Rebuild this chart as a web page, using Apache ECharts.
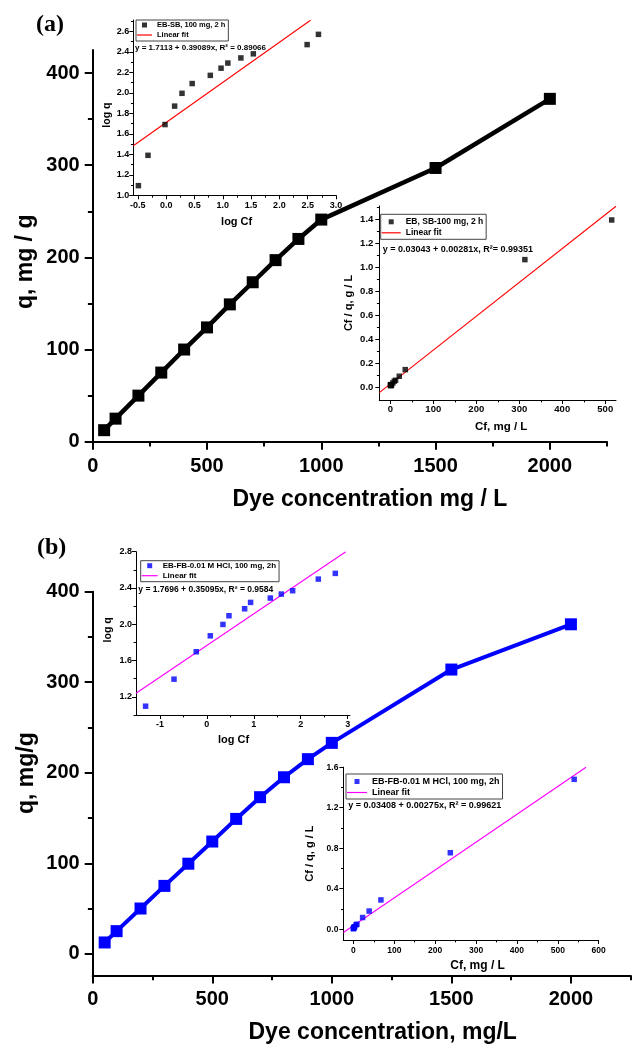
<!DOCTYPE html>
<html>
<head>
<meta charset="utf-8">
<title>Adsorption isotherms</title>
<script src="https://cdn.jsdelivr.net/npm/echarts@6.0.0/dist/echarts.min.js"></script>
<style>
  html, body { margin: 0; padding: 0; background: #fff; }
  #chart { width: 632px; height: 1044px; }
</style>
</head>
<body>
<div id="chart"></div>
<script>
var FONT = '"Liberation Sans", Arial, sans-serif';

// initial dye concentration, mg/L (both panels)
var dyeConc = [50, 100, 200, 300, 400, 500, 600, 700, 800, 900, 1000, 1500, 2000];

// (a) EB on SB
var qSB = [12.5, 25, 50, 75, 100, 124, 149, 173, 197, 220, 241, 297, 372];
var logCfSB = [-0.49, -0.32, -0.02, 0.15, 0.28, 0.46, 0.78, 0.97, 1.09, 1.32, 1.54, 2.49, 2.69];
var logqSB = [1.094, 1.39, 1.69, 1.87, 1.995, 2.09, 2.17, 2.24, 2.29, 2.34, 2.38, 2.47, 2.57];
var cfSB = [0.32, 0.48, 0.95, 1.4, 1.9, 2.9, 6.0, 9.3, 12.3, 20.9, 34.7, 313, 515];
var cfqSB = [0.026, 0.019, 0.019, 0.019, 0.019, 0.023, 0.04, 0.054, 0.062, 0.095, 0.15, 1.063, 1.392];
var fitLogSB = [[-0.58, 1.484], [2.55, 2.708]];
var fitLinSB = [[-25.6, -0.041], [525, 1.506]];

// (b) EB on FB-0.01 M HCl
var qFB = [12.5, 25, 50, 75, 99.5, 124, 149, 173, 195, 215, 233, 314, 364];
var logCfFB = [-1.305, -0.70, -0.226, 0.073, 0.343, 0.471, 0.805, 0.932, 1.352, 1.586, 1.828, 2.375, 2.737];
var logqFB = [1.097, 1.395, 1.697, 1.873, 1.998, 2.094, 2.171, 2.241, 2.289, 2.333, 2.37, 2.498, 2.561];
var cfFB = [0.05, 0.2, 0.59, 1.18, 2.2, 2.96, 6.4, 8.6, 22.5, 38.5, 67.3, 237, 540];
var cfqFB = [0.004, 0.008, 0.012, 0.016, 0.022, 0.024, 0.043, 0.049, 0.115, 0.179, 0.289, 0.755, 1.48];
var fitLogFB = [[-1.51, 1.240], [2.96, 2.8]];
var fitLinFB = [[-24.5, -0.033], [569, 1.599]];

// tick labels
var mainXTicks = [0, 500, 1000, 1500, 2000];
var mainXMinor = [250, 750, 1250, 1750, 2250];
var mainYTicks = [0, 100, 200, 300, 400];
var mainYMinor = [50, 150, 250, 350];
var logXTicksA = [-0.5, 0, 0.5, 1, 1.5, 2, 2.5, 3];
var logXMinorA = [-0.25, 0.25, 0.75, 1.25, 1.75, 2.25, 2.75];
var logYTicksA = [1.0, 1.2, 1.4, 1.6, 1.8, 2.0, 2.2, 2.4, 2.6];
var logYMinorA = [1.1, 1.3, 1.5, 1.7, 1.9, 2.1, 2.3, 2.5, 2.7];
var linXTicksA = [0, 100, 200, 300, 400, 500];
var linXMinorA = [50, 150, 250, 350, 450];
var linYTicksA = [0, 0.2, 0.4, 0.6, 0.8, 1.0, 1.2, 1.4];
var linYMinorA = [0.1, 0.3, 0.5, 0.7, 0.9, 1.1, 1.3, 1.5];
var logXTicksB = [-1, 0, 1, 2, 3];
var logXMinorB = [-0.5, 0.5, 1.5, 2.5];
var logYTicksB = [1.2, 1.6, 2.0, 2.4, 2.8];
var logYMinorB = [1.0, 1.4, 1.8, 2.2, 2.6];
var linXTicksB = [0, 100, 200, 300, 400, 500, 600];
var linXMinorB = [50, 150, 250, 350, 450, 550];
var linYTicksB = [0, 0.4, 0.8, 1.2, 1.6];
var linYMinorB = [0.2, 0.6, 1.0, 1.4];

function zip(xs, ys) {
    var out = [];
    for (var i = 0; i < xs.length; i++) out.push([xs[i], ys[i]]);
    return out;
}
function asInt(v) { return String(Math.round(v)); }
function oneDec(v) { return v.toFixed(1); }

var chart = echarts.init(document.getElementById('chart'));

var grids = [
    {left: 92.7, top: 50, width: 514.3, height: 391.7},    // (a) main
    {left: 133.3, top: 20, width: 202.7, height: 175.3},   // (a) log inset
    {left: 379.3, top: 206, width: 236.7, height: 194},    // (a) Cf/q inset
    {left: 92.7, top: 591.7, width: 538, height: 383.8},   // (b) main
    {left: 136, top: 551.7, width: 214, height: 163.3},    // (b) log inset
    {left: 343.4, top: 767.2, width: 255.3, height: 172.8} // (b) Cf/q inset
];
grids.forEach(function (g) { g.containLabel = false; g.outerBoundsMode = 'none'; });

var xAxes = [], yAxes = [];
// each grid gets a labelled axis plus a bare one carrying the minor ticks
function addAxes(list, grid, pos, min, max, major, minor, o) {
    var black = {color: '#000', width: o.lw};
    list.push({
        type: 'value', gridIndex: grid, position: pos, min: min, max: max,
        name: o.name, nameLocation: 'middle', nameGap: o.gap, nameMoveOverlap: false,
        nameTextStyle: {fontSize: o.nameSize, fontWeight: 'bold', color: '#000',
            fontFamily: FONT, padding: o.pad || 0},
        axisLine: {show: true, onZero: false, lineStyle: black},
        axisTick: {show: true, inside: false, length: o.tick, customValues: major, lineStyle: black},
        axisLabel: {show: true, customValues: major, margin: o.margin, fontSize: o.size,
            fontWeight: 'bold', color: '#000', fontFamily: FONT, formatter: o.fmt},
        splitLine: {show: false}
    });
    list.push({
        type: 'value', gridIndex: grid, position: pos, min: min, max: max,
        axisLine: {show: false, onZero: false},
        axisTick: {show: true, inside: false, length: o.tick * 0.6, customValues: minor, lineStyle: black},
        axisLabel: {show: false},
        splitLine: {show: false}
    });
}

// (a)
addAxes(xAxes, 0, 'bottom', 0, 2250, mainXTicks, mainXMinor,
    {lw: 2, tick: 8, size: 20, margin: 15, fmt: asInt, name: 'Dye concentration mg / L',
     nameSize: 23, gap: 46, pad: [0, 0, 0, 40]});
addAxes(yAxes, 0, 'left', 0, 425, mainYTicks, mainYMinor,
    {lw: 2, tick: 8, size: 20, margin: 13, fmt: asInt, name: 'q, mg / g',
     nameSize: 23, gap: 56, pad: [0, 32, 0, 0]});
addAxes(xAxes, 1, 'bottom', -0.58, 3.0, logXTicksA, logXMinorA,
    {lw: 1, tick: 4, size: 9, margin: 6, fmt: oneDec, name: 'log Cf',
     nameSize: 11, gap: 21, pad: [0, 0, 0, 4]});
addAxes(yAxes, 1, 'left', 1.0, 2.71, logYTicksA, logYMinorA,
    {lw: 1, tick: 4, size: 9, margin: 4, fmt: oneDec, name: 'log q',
     nameSize: 10.5, gap: 21, pad: [0, 15, 0, 0]});
addAxes(xAxes, 2, 'bottom', -25.6, 525, linXTicksA, linXMinorA,
    {lw: 1, tick: 4, size: 9.5, margin: 4, fmt: asInt, name: 'Cf, mg / L',
     nameSize: 11.5, gap: 21, pad: [0, 0, 0, 7]});
addAxes(yAxes, 2, 'left', -0.102, 1.508, linYTicksA, linYMinorA,
    {lw: 1, tick: 4, size: 9.5, margin: 6, fmt: oneDec, name: 'Cf / q, g / L',
     nameSize: 11, gap: 25});
// (b)
addAxes(xAxes, 3, 'bottom', 0, 2250, mainXTicks, mainXMinor,
    {lw: 2, tick: 8, size: 20, margin: 14, fmt: asInt, name: 'Dye concentration, mg/L',
     nameSize: 23, gap: 46, pad: [0, 0, 0, 42]});
addAxes(yAxes, 3, 'left', -24, 400, mainYTicks, mainYMinor,
    {lw: 2, tick: 8, size: 20, margin: 13, fmt: asInt, name: 'q, mg/g',
     nameSize: 23, gap: 55, pad: [0, 0, 0, 21]});
addAxes(xAxes, 4, 'bottom', -1.51, 3.05, logXTicksB, logXMinorB,
    {lw: 1, tick: 4, size: 9, margin: 5, fmt: asInt, name: 'log Cf',
     nameSize: 11, gap: 19, pad: [0, 19, 0, 0]});
addAxes(yAxes, 4, 'left', 1.0, 2.8, logYTicksB, logYMinorB,
    {lw: 1, tick: 4, size: 9, margin: 4, fmt: oneDec, name: 'log q',
     nameSize: 10.5, gap: 22, pad: [0, 0, 0, 7]});
addAxes(xAxes, 5, 'bottom', -24.5, 600, linXTicksB, linXMinorB,
    {lw: 1, tick: 4, size: 8.5, margin: 6, fmt: asInt, name: 'Cf, mg / L',
     nameSize: 12, gap: 20, pad: [0, 0, 0, 13]});
addAxes(yAxes, 5, 'left', -0.107, 1.6, linYTicksB, linYMinorB,
    {lw: 1, tick: 4, size: 8.5, margin: 5, fmt: oneDec, name: 'Cf / q, g / L',
     nameSize: 11, gap: 28});

function mainLine(g, data, color, width) {
    return {type: 'line', xAxisIndex: 2 * g, yAxisIndex: 2 * g, data: data,
        symbol: 'rect', symbolSize: 12, showSymbol: true,
        lineStyle: {color: color, width: width}, itemStyle: {color: color}, z: 2};
}
function dots(g, name, data, color, size) {
    return {type: 'scatter', name: name, xAxisIndex: 2 * g, yAxisIndex: 2 * g, data: data,
        symbol: 'rect', symbolSize: size, itemStyle: {color: color}, z: 4};
}
function fit(g, name, data, color) {
    return {type: 'line', name: name, xAxisIndex: 2 * g, yAxisIndex: 2 * g, data: data,
        symbol: 'none', lineStyle: {color: color, width: 1.1}, itemStyle: {color: color}, z: 3};
}

var nameLogA = 'EB-SB, 100 mg, 2 h';
var nameLinA = 'EB, SB-100 mg, 2 h';
var nameB = 'EB-FB-0.01 M HCl, 100 mg, 2h';

var series = [
    mainLine(0, zip(dyeConc, qSB), '#000', 4.5),
    fit(1, 'Linear fit|1', fitLogSB, '#ff0000'),
    dots(1, nameLogA, zip(logCfSB, logqSB), '#000', 5.5),
    fit(2, 'Linear fit|2', fitLinSB, '#ff0000'),
    dots(2, nameLinA, zip(cfSB, cfqSB), '#000', 5.5),
    mainLine(3, zip(dyeConc, qFB), '#0000ff', 4),
    fit(4, 'Linear fit|3', fitLogFB, '#ff00ff'),
    dots(4, nameB + '|1', zip(logCfFB, logqFB), '#0000ff', 5.5),
    fit(5, 'Linear fit|4', fitLinFB, '#ff00ff'),
    dots(5, nameB + '|2', zip(cfFB, cfqFB), '#0000ff', 5.5)
];

// legend icons drawn as paths spanning the whole icon box (w x h)
function squareIcon(w, h) {
    var x0 = (w - h) / 2;
    return 'path://M0,0L0,0M' + x0 + ',0L' + (x0 + h) + ',0L' + (x0 + h) + ',' + h +
        'L' + x0 + ',' + h + 'ZM' + w + ',' + h + 'L' + w + ',' + h;
}
function lineIcon(w, h) {
    var y0 = h / 2 - 0.6, y1 = h / 2 + 0.6;
    return 'path://M0,0L0,0M0,' + y0 + 'L' + w + ',' + y0 + 'L' + w + ',' + y1 +
        'L0,' + y1 + 'ZM' + w + ',' + h + 'L' + w + ',' + h;
}

function box(left, top, names, size, itemWidth, pad) {
    var h = 5;
    return {
        left: left, top: top, orient: 'vertical', selectedMode: false,
        data: [{name: names[0], icon: squareIcon(itemWidth, h)},
               {name: names[1], icon: lineIcon(itemWidth, h)}],
        itemWidth: itemWidth, itemHeight: h, itemGap: 2, padding: pad,
        borderColor: '#444', borderWidth: 1, backgroundColor: '#fff',
        formatter: function (n) { return n.split('|')[0]; },
        textStyle: {fontSize: size, fontWeight: 'bold', color: '#000', fontFamily: FONT}
    };
}

function label(x, y, text, size, family) {
    return {type: 'text', x: x, y: y, z: 10,
        style: {text: text, fontSize: size, fontWeight: 'bold', fill: '#000',
            fontFamily: family || FONT, align: 'left', verticalAlign: 'middle'}};
}

chart.setOption({
    animation: false,
    backgroundColor: '#fff',
    grid: grids,
    xAxis: xAxes,
    yAxis: yAxes,
    legend: [
        box(136, 20, [nameLogA, 'Linear fit|1'], 7.5, 15, [1, 3, 2, 1]),
        box(380.7, 214.3, [nameLinA, 'Linear fit|2'], 8.5, 19, [3, 3, 2, 1]),
        box(140.7, 560.7, [nameB + '|1', 'Linear fit|3'], 8, 16, [1, 3, 2, 1]),
        box(346, 774, [nameB + '|2', 'Linear fit|4'], 9, 20, [3, 3, 2, 1])
    ],
    graphic: [
        label(36, 25, '(a)', 24, '"Liberation Serif", "Times New Roman", serif'),
        label(37, 547.5, '(b)', 24, '"Liberation Serif", "Times New Roman", serif'),
        label(135, 47.7, 'y = 1.7113 + 0.39089x, R² = 0.89066', 8),
        label(382.7, 250, 'y = 0.03043 + 0.00281x, R²= 0.99351', 9),
        label(138.3, 590, 'y = 1.7696 + 0.35095x, R² = 0.9584', 8.5),
        label(348.3, 806, 'y = 0.03408 + 0.00275x, R² = 0.99621', 9)
    ],
    series: series
});
</script>
</body>
</html>
